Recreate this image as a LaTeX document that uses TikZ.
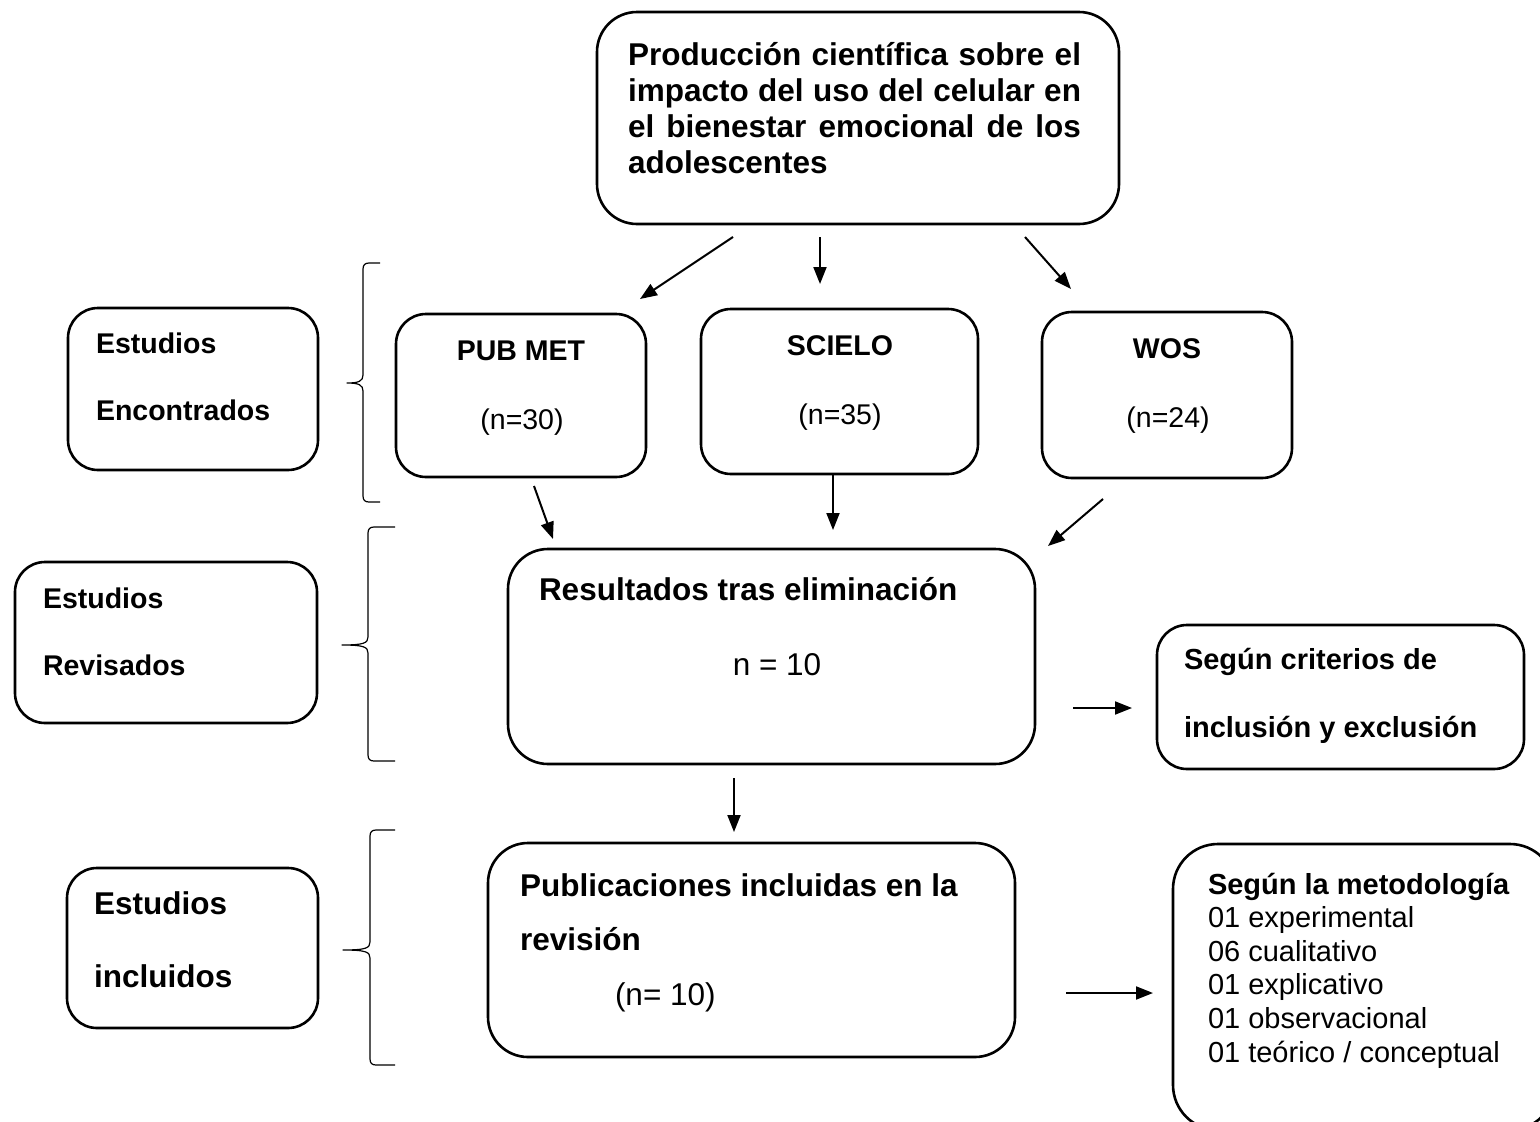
\documentclass[tikz,border=0pt]{standalone}
\usepackage{fontspec}
\setmainfont{Liberation Sans}
\usetikzlibrary{arrows.meta}
\newcommand\FBig{\fontsize{31.5}{36}\selectfont}
\newcommand\FMid{\fontsize{29}{33.5}\selectfont}
\newcommand\FSml{\fontsize{28.5}{34}\selectfont}
\tikzset{
  box/.style={draw, line width=2.6pt, rounded corners=#1, inner sep=0pt},
  box/.default=30pt,
  txt/.style={inner sep=0pt, outer sep=0pt, anchor=base west},
  ctxt/.style={inner sep=0pt, outer sep=0pt, anchor=base},
  arr/.style={line width=2pt, -{Triangle[length=17pt,width=13pt]}},
  brace/.style={line width=1.2pt, line join=round}
}
\begin{document}
\begin{tikzpicture}[x=1pt,y=-1pt]
\useasboundingbox (0,0) rectangle (1540,1122);
\fill[white] (0,0) rectangle (1540,1122);
\clip (0,0) rectangle (1540,1122);

% boxes
\node[box=40pt, minimum width=522pt, minimum height=212pt] (top) at (858,118) {};
\node[box, minimum width=250pt, minimum height=163pt] (pub) at (521,395.5) {};
\node[box, minimum width=277pt, minimum height=165pt] (sci) at (839.5,391.5) {};
\node[box, minimum width=250pt, minimum height=166pt] (wos) at (1167,395) {};
\node[box, minimum width=250pt, minimum height=162pt] (enc) at (193,389) {};
\node[box, minimum width=302pt, minimum height=161pt] (rev) at (166,642.5) {};
\node[box, minimum width=251pt, minimum height=160pt] (inc) at (192.5,948) {};
\node[box=40pt, minimum width=527pt, minimum height=215pt] (res) at (771.5,656.5) {};
\node[box, minimum width=367pt, minimum height=144pt] (crit) at (1340.5,697) {};
\node[box=40pt, minimum width=527pt, minimum height=214pt] (pubs) at (751.5,950) {};
\node[box=45pt, minimum width=382pt, minimum height=286pt] (met) at (1364,987) {};

% texts
\node[txt] (ttop) at (628,65.5) {\parbox[t]{453pt}{\FBig\bfseries
  \makebox[453pt][s]{Producción científica sobre el}\\
  \makebox[453pt][s]{impacto del uso del celular en}\\
  \makebox[453pt][s]{el bienestar emocional de los}\\
  adolescentes}};

\node[ctxt] (tpub) at (521,360) {\FSml\bfseries PUB MET};
\node[ctxt] (tpubn) at (522,429) {\FSml (n=30)};
\node[ctxt] (tsci) at (840,355) {\FSml\bfseries SCIELO};
\node[ctxt] (tscin) at (840,424) {\FSml (n=35)};
\node[ctxt] (twos) at (1167,358) {\FSml\bfseries WOS};
\node[ctxt] (twosn) at (1168,427) {\FSml (n=24)};

\node[txt] (tenc) at (96,353) {\parbox[t]{220pt}{\fontsize{28.5}{67}\selectfont\bfseries Estudios\\Encontrados}};
\node[txt] (trev) at (43,608) {\parbox[t]{260pt}{\fontsize{28.5}{67}\selectfont\bfseries Estudios\\Revisados}};
\node[txt] (tinc) at (94,914) {\parbox[t]{220pt}{\fontsize{31.5}{73}\selectfont\bfseries Estudios\\incluidos}};

\node[txt] (tres) at (539,600) {\FBig\bfseries Resultados tras eliminación};
\node[ctxt] (tresn) at (777,675) {\FBig n = 10};

\node[txt] (tcrit) at (1184,669) {\parbox[t]{340pt}{\fontsize{29}{68}\selectfont\bfseries Según criterios de\\inclusión y exclusión}};

\node[txt] (tpubs) at (520,896) {\parbox[t]{480pt}{\fontsize{31.5}{54}\selectfont\bfseries Publicaciones incluidas en la\\revisión}};
\node[txt] (tpubsn) at (615,1005) {\FBig (n= 10)};

\node[txt] (tmet) at (1208,894) {\parbox[t]{330pt}{\fontsize{29}{33.6}\selectfont
  \textbf{Según la metodología}\\
  01 experimental\\
  06 cualitativo\\
  01 explicativo\\
  01 observacional\\
  01 teórico / conceptual}};

% arrow end points
\coordinate (a1s) at (733,237);  \coordinate (a1e) at (640,299);
\coordinate (a2s) at (820,237);  \coordinate (a2e) at (820,284);
\coordinate (a3s) at (1025,237); \coordinate (a3e) at (1071,289);
\coordinate (a4s) at (534,486);  \coordinate (a4e) at (553,539);
\coordinate (a5s) at (833,475);  \coordinate (a5e) at (833,530);
\coordinate (a6s) at (1103,499); \coordinate (a6e) at (1048,546);
\coordinate (a7s) at (1073,708); \coordinate (a7e) at (1132,708);
\coordinate (a8s) at (734,778);  \coordinate (a8e) at (734,832);
\coordinate (a9s) at (1066,993); \coordinate (a9e) at (1153,993);

\draw[arr] (a1s) -- (a1e);
\draw[arr] (a2s) -- (a2e);
\draw[arr] (a3s) -- (a3e);
\draw[arr] (a4s) -- (a4e);
\draw[arr] (a5s) -- (a5e);
\draw[arr] (a6s) -- (a6e);
\draw[arr] (a7s) -- (a7e);
\draw[arr] (a8s) -- (a8e);
\draw[arr] (a9s) -- (a9e);

% braces
\draw[brace] (380,263) -- (369,263) .. controls (365,263) and (363,265) .. (363,269) -- (363,375) .. controls (363,381) and (359,383) .. (347,383) .. controls (359,383) and (363,385) .. (363,391) -- (363,496) .. controls (363,500) and (365,502) .. (369,502) -- (380,502);
\draw[brace] (395,527) -- (374,527) .. controls (370,527) and (368,529) .. (368,533) -- (368,637) .. controls (368,643) and (364,645) .. (342,645) .. controls (364,645) and (368,647) .. (368,653) -- (368,755) .. controls (368,759) and (370,761) .. (374,761) -- (395,761);
\draw[brace] (395,830) -- (376,830) .. controls (372,830) and (370,832) .. (370,836) -- (370,942) .. controls (370,948) and (366,950) .. (343,950) .. controls (366,950) and (370,952) .. (370,958) -- (370,1059) .. controls (370,1063) and (372,1065) .. (376,1065) -- (395,1065);
\end{tikzpicture}
\end{document}
